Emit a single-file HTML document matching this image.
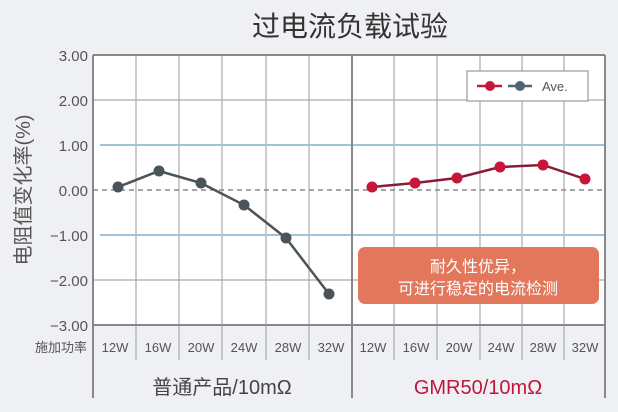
<!DOCTYPE html><html><head><meta charset="utf-8"><style>
body{margin:0;background:#eef0f3;}
svg{display:block;font-family:"Liberation Sans","Noto Sans CJK SC",sans-serif;}
</style></head><body>
<svg width="618" height="412" viewBox="0 0 618 412">
<rect width="618" height="412" fill="#eef0f3"/>
<text x="350" y="36" font-size="28" text-anchor="middle" fill="#333">过电流负载试验</text>
<rect x="93" y="55" width="512" height="270" fill="#fff"/>
<g stroke="#aaa" stroke-width="1.2">
<line x1="93" y1="100" x2="605" y2="100"/><line x1="93" y1="280" x2="605" y2="280"/>
<line x1="136" y1="55" x2="136" y2="360"/><line x1="179" y1="55" x2="179" y2="360"/><line x1="222" y1="55" x2="222" y2="360"/><line x1="266" y1="55" x2="266" y2="360"/><line x1="309" y1="55" x2="309" y2="360"/>
<line x1="394" y1="55" x2="394" y2="360"/><line x1="437" y1="55" x2="437" y2="360"/><line x1="480" y1="55" x2="480" y2="360"/><line x1="522" y1="55" x2="522" y2="360"/><line x1="564" y1="55" x2="564" y2="360"/>
</g>
<g stroke="#9ec4dc" stroke-width="2"><line x1="100" y1="145" x2="605" y2="145"/><line x1="100" y1="235" x2="605" y2="235"/></g>
<line x1="93" y1="190" x2="605" y2="190" stroke="#888" stroke-width="1.5" stroke-dasharray="5,4"/>
<g stroke="#888" stroke-width="2" fill="none">
<line x1="93" y1="55" x2="605" y2="55"/><line x1="93" y1="325" x2="605" y2="325"/>
<line x1="93" y1="55" x2="93" y2="398"/><line x1="352" y1="55" x2="352" y2="398"/><line x1="605" y1="55" x2="605" y2="398"/>
</g>
<g font-size="15" fill="#555" text-anchor="end">
<text x="88" y="61">3.00</text><text x="88" y="106">2.00</text><text x="88" y="151">1.00</text><text x="88" y="196">0.00</text><text x="88" y="241">−1.00</text><text x="88" y="286">−2.00</text><text x="88" y="331">−3.00</text>
</g>
<text transform="translate(30,190) rotate(-90)" font-size="20" fill="#555" text-anchor="middle">电阻值变化率(%)</text>
<text x="87" y="352" font-size="13" fill="#555" text-anchor="end">施加功率</text>
<g font-size="13" fill="#555" text-anchor="middle">
<text x="115" y="352">12W</text><text x="158" y="352">16W</text><text x="201" y="352">20W</text><text x="244" y="352">24W</text><text x="288" y="352">28W</text><text x="331" y="352">32W</text>
<text x="373" y="352">12W</text><text x="416" y="352">16W</text><text x="459" y="352">20W</text><text x="501" y="352">24W</text><text x="543" y="352">28W</text><text x="585" y="352">32W</text>
</g>
<text x="222" y="394" font-size="20" fill="#444" text-anchor="middle">普通产品/10mΩ</text>
<text x="478" y="394" font-size="20" fill="#c0163c" text-anchor="middle">GMR50/10mΩ</text>
<polyline points="118,187 159,171 201,183 244,205 286,238 329,294" fill="none" stroke="#4a5459" stroke-width="2.5"/>
<g fill="#4a5459"><circle cx="118" cy="187" r="5.5"/><circle cx="159" cy="171" r="5.5"/><circle cx="201" cy="183" r="5.5"/><circle cx="244" cy="205" r="5.5"/><circle cx="286" cy="238" r="5.5"/><circle cx="329" cy="294" r="5.5"/></g>
<polyline points="372,187 415,183 457,178 500,167 543,165 585,179" fill="none" stroke="#8b1a35" stroke-width="2.5"/>
<g fill="#c8153a"><circle cx="372" cy="187" r="5.5"/><circle cx="415" cy="183" r="5.5"/><circle cx="457" cy="178" r="5.5"/><circle cx="500" cy="167" r="5.5"/><circle cx="543" cy="165" r="5.5"/><circle cx="585" cy="179" r="5.5"/></g>
<rect x="467" y="71" width="121" height="30" fill="#fff" stroke="#999" stroke-width="1.2"/>
<line x1="477" y1="86" x2="502" y2="86" stroke="#c8153a" stroke-width="2.5"/><circle cx="490" cy="86" r="5" fill="#c8153a"/>
<line x1="508" y1="86" x2="532" y2="86" stroke="#4f6670" stroke-width="2.5"/><circle cx="520" cy="86" r="5" fill="#4f6670"/>
<text x="542" y="91" font-size="13" fill="#555">Ave.</text>
<rect x="358" y="247" width="241" height="57" rx="7" fill="#e2775c"/>
<text x="478" y="272" font-size="16" fill="#fff" text-anchor="middle">耐久性优异，</text>
<text x="478" y="294" font-size="16" fill="#fff" text-anchor="middle">可进行稳定的电流检测</text>
</svg></body></html>
